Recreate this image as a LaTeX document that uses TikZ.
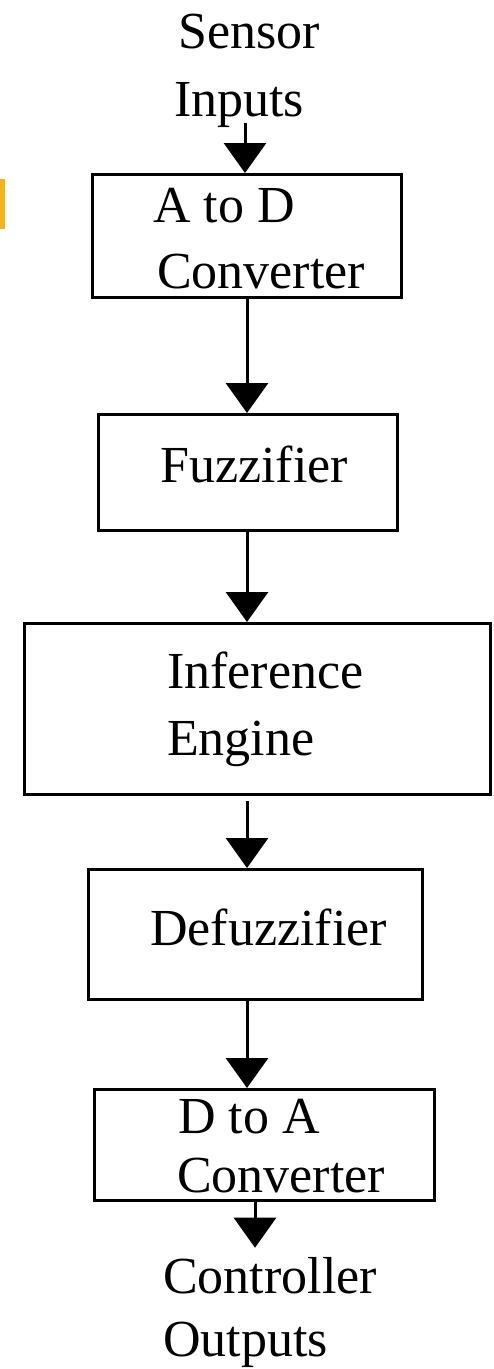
\documentclass[tikz,border=0pt]{standalone}
\usepackage{fontspec}
\setmainfont{Liberation Serif}
\usetikzlibrary{arrows.meta, positioning}
\definecolor{markgold}{RGB}{242,180,30}

\begin{document}
\begin{tikzpicture}[
        x=1pt, y=-1pt,
        block/.style={draw, line width=3pt, inner sep=0pt},
        lbl/.style={inner sep=0pt, anchor=base west, font=\fontsize{52}{62}\selectfont},
        flow/.style={line width=3pt, -{Triangle[width=42pt, length=30pt]}}
    ]
        \useasboundingbox (0,0) rectangle (493,1369);

        % small mark at the left edge
        \fill[markgold] (0,179) rectangle (5,229);

        % Blocks
        \node[block, minimum width=309pt, minimum height=123pt] (adc) at (247,236) {};
        \node[block, minimum width=299pt, minimum height=116pt] (fuzz) at (248,472.5) {};
        \node[block, minimum width=466pt, minimum height=171pt] (infer) at (257.5,709) {};
        \node[block, minimum width=334pt, minimum height=130pt] (defuzz) at (255.5,934.5) {};
        \node[block, minimum width=340pt, minimum height=111pt] (dac) at (264.5,1145) {};

        % Texts
        \node[lbl] (sensor) at (178,48) {Sensor};
        \node[lbl] (inputs) at (174,116) {Inputs};
        \node[lbl] (adc1) at (153,222) {A to D};
        \node[lbl] (adc2) at (157,288) {Converter};
        \node[lbl] (fuzz1) at (160,482) {Fuzzifier};
        \node[lbl] (infer1) at (167,688) {Inference};
        \node[lbl] (infer2) at (167,755) {Engine};
        \node[lbl] (defuzz1) at (150,945) {Defuzzifier};
        \node[lbl] (dac1) at (178,1133) {D to A};
        \node[lbl] (dac2) at (177,1192) {Converter};
        \node[lbl] (ctrl) at (163,1293) {Controller};
        \node[lbl] (outputs) at (163,1356) {Outputs};

        % Arrows
        \coordinate (colin) at (245,0);
        \coordinate (col) at (247,0);
        \coordinate (colout) at (255,0);

        \draw[flow, shorten <=-4pt] (inputs.south -| colin) -- (adc.north -| colin);
        \draw[flow] (adc.south -| col) -- (fuzz.north -| col);
        \draw[flow] (fuzz.south -| col) -- (infer.north -| col);
        \draw[flow, shorten <=5pt] (infer.south -| col) -- (defuzz.north -| col);
        \draw[flow] (defuzz.south -| col) -- (dac.north -| col);
        \draw[flow, shorten >=9pt] (dac.south -| colout) -- (ctrl.north -| colout);

    \end{tikzpicture}
\end{document}
